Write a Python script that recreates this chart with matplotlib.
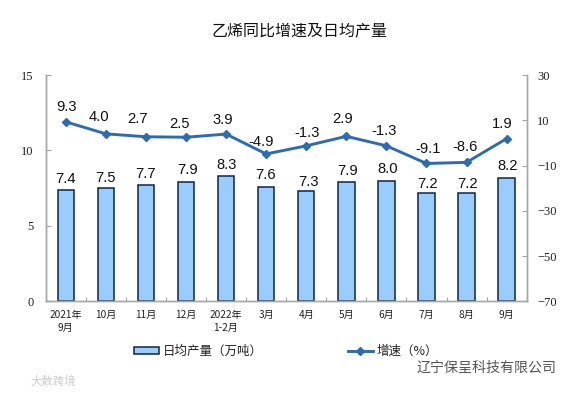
import matplotlib
matplotlib.use("Agg")
import matplotlib.pyplot as plt
from matplotlib.patches import Patch
import numpy as np

plt.rcParams['font.family'] = ['Noto Sans CJK SC', 'DejaVu Sans']

categories = ['2021年\n9月', '10月', '11月', '12月', '2022年\n1-2月', '3月',
              '4月', '5月', '6月', '7月', '8月', '9月']
output = [7.4, 7.5, 7.7, 7.9, 8.3, 7.6, 7.3, 7.9, 8.0, 7.2, 7.2, 8.2]
growth = [9.3, 4.0, 2.7, 2.5, 3.9, -4.9, -1.3, 2.9, -1.3, -9.1, -8.6, 1.9]
title = '乙烯同比增速及日均产量'
bar_name = '日均产量（万吨）'
line_name = '增速（%）'

# label offsets in pixels relative to the marks (styling only)
bar_dx = [0, 0, 0, 2, 0, -1, 2, 1, 1, 1, 1, 1]
bar_dy = [11, 10, 11, 12, 11, 12, 9, 11, 12, 9, 9, 12]
line_dx = [1, -7, -8, -6, -3, -5, 1, -4, -2, 2, -2, -4]
line_dy = [15, 17, 18, 13, 14, 12, 13, 17, 15, 14, 15, 15]

W, H = 575, 394
fig = plt.figure(figsize=(W / 100, H / 100), dpi=100, facecolor='white')
ax = fig.add_axes([45.7 / W, (H - 301.3) / H, 481 / W, 226.3 / H])
ax2 = ax.twinx()
x = np.arange(len(categories))
GRAY = '#a6a6a6'
lab_font = ['Liberation Sans', 'DejaVu Sans']
tick_font = ['Liberation Serif', 'DejaVu Serif']

ax.bar(x, output, width=0.41, color='#99ccff', edgecolor='#10253f', linewidth=1.1,
       label=bar_name, zorder=2)
ax.set_xlim(-0.5, 11.5)
ax.set_ylim(0, 15)
ax.set_yticks([0, 5, 10, 15])
ax.set_xticks(x)
ax.set_xticklabels(categories, fontsize=7.3, color='#222222', linespacing=1.45)
ax.set_xticks(np.arange(-0.5, 12), minor=True)
ax.tick_params(axis='x', which='major', length=0, pad=6)
ax.tick_params(axis='x', which='minor', length=3, direction='in', color=GRAY, width=0.8)
ax.tick_params(axis='y', length=3.5, direction='in', color=GRAY, width=0.8, pad=8.5,
               labelsize=9, labelcolor='#222222')
for t in ax.get_yticklabels():
    t.set_family(tick_font)

line, = ax2.plot(x, growth, color='#2e6cb0', linewidth=2.1, marker='D', markersize=4,
                 label=line_name, zorder=3)
ax2.set_ylim(-70, 30)
ax2.set_yticks([-70, -50, -30, -10, 10, 30])
ax2.tick_params(axis='y', length=3.5, direction='in', color=GRAY, width=0.8, pad=7.5,
                labelsize=9, labelcolor='#222222')
for t in ax2.get_yticklabels():
    t.set_family(tick_font)

for a in (ax, ax2):
    a.spines['top'].set_visible(False)
    for s in ('left', 'right', 'bottom'):
        a.spines[s].set_color(GRAY)
        a.spines[s].set_linewidth(1.0)

for i, v in enumerate(output):
    ax.annotate(f'{v:.1f}', (x[i], v), xytext=(bar_dx[i], bar_dy[i]),
                textcoords='offset pixels', ha='center', va='center',
                fontsize=10.6, family=lab_font, color='#111111')
for i, v in enumerate(growth):
    ax2.annotate(f'{v:.1f}', (x[i], v), xytext=(line_dx[i], line_dy[i]),
                 textcoords='offset pixels', ha='center', va='center',
                 fontsize=10.6, family=lab_font, color='#111111')

fig.text(300 / W, 1 - 31 / H, title, ha='center', va='center', fontsize=11.5, color='#111111')

bar_handle = Patch(facecolor='#99ccff', edgecolor='#10253f', linewidth=1.1)
leg = fig.legend([bar_handle, line], [bar_name, line_name], ncol=2, frameon=False,
                 loc='center left', bbox_to_anchor=(134 / W, 1 - 351 / H),
                 fontsize=9, handlelength=2.0, handleheight=0.5, handletextpad=0.3,
                 columnspacing=6.8, borderpad=0, borderaxespad=0, labelcolor='#222222')

# watermarks
fig.text(30 / W, 1 - 381 / H, '大数跨境', ha='left', va='center', fontsize=8.2, color='#cfcfcf')
fig.text(417 / W, 1 - 367.5 / H, '辽宁保呈科技有限公司', ha='left', va='center',
         fontsize=10.1, color='#555555')

fig.savefig('out.png', dpi=100, facecolor='white')
